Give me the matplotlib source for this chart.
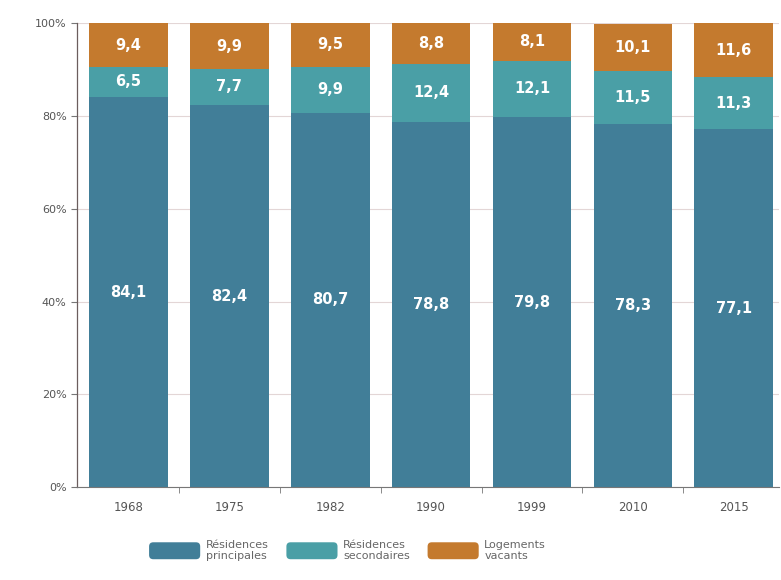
import matplotlib
matplotlib.use("Agg")
import matplotlib.pyplot as plt
import numpy as np
from matplotlib.patches import FancyBboxPatch
from matplotlib.legend_handler import HandlerPatch

years = ["1968", "1975", "1982", "1990", "1999", "2010", "2015"]
principales = [84.1, 82.4, 80.7, 78.8, 79.8, 78.3, 77.1]
secondaires = [6.5, 7.7, 9.9, 12.4, 12.1, 11.5, 11.3]
vacants = [9.4, 9.9, 9.5, 8.8, 8.1, 10.1, 11.6]
labels_leg = ["Résidences\nprincipales", "Résidences\nsecondaires", "Logements\nvacants"]
yticks = [0, 20, 40, 60, 80, 100]

c_dark = "#417E98"
c_teal = "#4A9FA6"
c_orange = "#C47A2E"

fig = plt.figure(figsize=(7.81, 5.80), dpi=100)
ax = fig.add_axes([0.0986, 0.160, 0.899, 0.800])

x = np.arange(len(years))
w = 0.78
p = np.array(principales)
s = np.array(secondaires)
v = np.array(vacants)
b1 = ax.bar(x, p, w, color=c_dark, label=labels_leg[0], zorder=2)
b2 = ax.bar(x, s, w, bottom=p, color=c_teal, label=labels_leg[1], zorder=2)
b3 = ax.bar(x, v, w, bottom=p + s, color=c_orange, label=labels_leg[2], zorder=2)

def fmt(val):
    return f"{val:.1f}".replace(".", ",")

for i in range(len(years)):
    ax.text(x[i], p[i] / 2, fmt(p[i]), ha="center", va="center", color="white",
            fontsize=10.5, fontweight="bold", zorder=3)
    ax.text(x[i], p[i] + s[i] / 2, fmt(s[i]), ha="center", va="center", color="white",
            fontsize=10.5, fontweight="bold", zorder=3)
    ax.text(x[i], p[i] + s[i] + v[i] / 2, fmt(v[i]), ha="center", va="center", color="white",
            fontsize=10.5, fontweight="bold", zorder=3)

ax.set_xlim(-0.51, 6.45)
ax.set_ylim(0, 100)
ax.set_yticks(yticks)
ax.set_yticklabels([f"{t}%" for t in yticks], fontsize=8, color="#555555")
ax.set_xticks(x)
ax.set_xticklabels(years, fontsize=8.5, color="#555555")
ax.tick_params(axis="x", length=0, pad=10)
ax.set_xticks(x[:-1] + 0.5, minor=True)
ax.tick_params(axis="x", which="minor", length=4, color="#777777", direction="out")
ax.tick_params(axis="y", length=4, color="#777777", width=0.8)
ax.yaxis.grid(True, color="#E3D6D6", linewidth=0.8, zorder=0)
ax.set_axisbelow(True)
for side in ["top", "right"]:
    ax.spines[side].set_visible(False)
ax.spines["left"].set_color("#6B5E5E")
ax.spines["bottom"].set_color("#777777")
ax.spines["left"].set_linewidth(0.9)
ax.spines["bottom"].set_linewidth(0.8)

class RoundHandler(HandlerPatch):
    def create_artists(self, legend, orig_handle, xdescent, ydescent, width, height, fontsize, trans):
        p = FancyBboxPatch((-xdescent, -ydescent - 2), width, height + 4,
                           boxstyle="round,pad=0,rounding_size=3",
                           facecolor=orig_handle.get_facecolor(), edgecolor="none",
                           transform=trans)
        return [p]

handles = [b1.patches[0], b2.patches[0], b3.patches[0]]
leg = fig.legend(handles, labels_leg, loc="lower center", bbox_to_anchor=(0.445, 0.015),
                 ncol=3, frameon=False, fontsize=8, handlelength=4.6, handleheight=1.2,
                 columnspacing=1.6, handletextpad=0.5, labelcolor="#666666",
                 handler_map={b1.patches[0]: RoundHandler(), b2.patches[0]: RoundHandler(),
                              b3.patches[0]: RoundHandler()})

fig.savefig("out.png", dpi=100)
